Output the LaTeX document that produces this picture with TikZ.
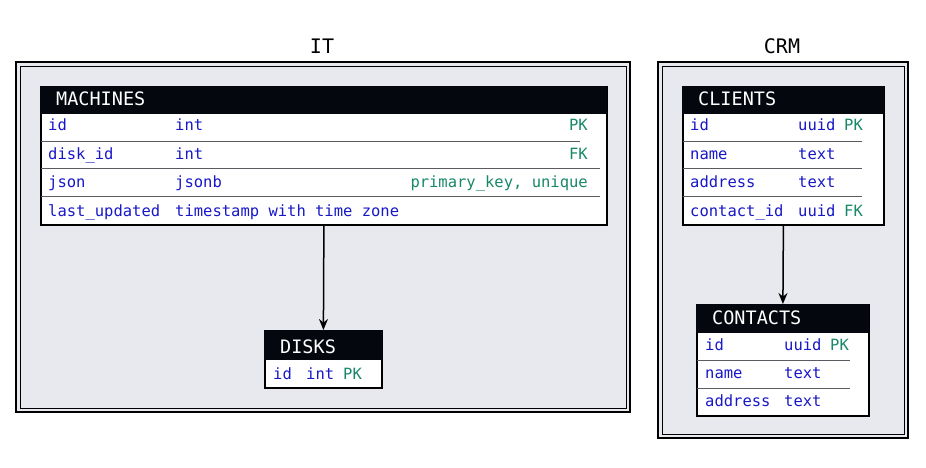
\documentclass[tikz,border=0pt]{standalone}
\usepackage{fontspec}
\setmonofont{DejaVu Sans Mono}
\usetikzlibrary{arrows.meta}
\definecolor{bgray}{HTML}{E8E9EE}
\definecolor{hblack}{HTML}{05070F}
\definecolor{fblue}{HTML}{1818C8}
\definecolor{fgreen}{HTML}{188868}
\definecolor{sepgray}{HTML}{5A5A60}
\tikzset{
  container/.style={draw=black, line width=1.6pt, fill=bgray},
  innerline/.style={draw=black, line width=0.9pt},
  tblbox/.style={draw=black, line width=1.8pt, fill=white, anchor=north west, inner sep=0pt},
  hdrbox/.style={fill=hblack, draw=hblack, line width=1pt, anchor=north west, inner sep=0pt},
  hdr/.style={text=white, font=\ttfamily\fontsize{18.5}{20}\selectfont, anchor=base west, inner sep=0pt},
  ttl/.style={text=black, font=\ttfamily\fontsize{20}{22}\selectfont, anchor=base, inner sep=0pt},
  fname/.style={text=fblue, font=\ttfamily\fontsize{15.5}{17}\selectfont, anchor=base west, inner sep=0pt},
  fcons/.style={text=fgreen, font=\ttfamily\fontsize{15.5}{17}\selectfont, anchor=base east, inner sep=0pt},
  fconsw/.style={text=fgreen, font=\ttfamily\fontsize{15.5}{17}\selectfont, anchor=base west, inner sep=0pt},
  sep/.style={draw=sepgray, line width=0.8pt},
  arr/.style={draw=black, line width=1.5pt, -{Stealth[length=11pt,width=9pt]}},
}
\begin{document}
\begin{tikzpicture}[x=1pt,y=-1pt]
\useasboundingbox (0,0) rectangle (926,468);
% ---------- IT container
\node[ttl] (ittitle) at (322,54) {IT};
\draw[container] (16,62) rectangle (630,412);
\draw[innerline] (20,66) rectangle (626,408);
% MACHINES
\node[tblbox, minimum width=566pt, minimum height=138pt] (machines) at (40,86) {};
\node[hdrbox, minimum width=566pt, minimum height=27pt] (machinesh) at (40,86) {};
\node[hdr] (machinest) at (56,105.5) {MACHINES};
\node[fname] (m1n) at (48,131) {id};
\node[fname] (m1t) at (175,131) {int};
\node[fcons] (m1c) at (588,131) {PK};
\node[fname] (m2n) at (48,159) {disk\_id};
\node[fname] (m2t) at (175,159) {int};
\node[fcons] (m2c) at (588,159) {FK};
\node[fname] (m3n) at (48,187) {json};
\node[fname] (m3t) at (175,187) {jsonb};
\node[fcons] (m3c) at (588,187) {primary\_key, unique};
\node[fname] (m4n) at (48,216) {last\_updated};
\node[fname] (m4t) at (175,216) {timestamp with time zone};
\draw[sep] (41,141) -- (580,141);
\draw[sep] (41,168) -- (600,168);
\draw[sep] (41,196) -- (600,196);
% DISKS
\node[tblbox, minimum width=117pt, minimum height=57pt] (disks) at (264,330) {};
\node[hdrbox, minimum width=117pt, minimum height=29pt] (disksh) at (264,330) {};
\node[hdr] (diskst) at (280,353.5) {DISKS};
\node[fname] (d1n) at (273,379) {id};
\node[fname] (d1t) at (306,379) {int};
\node[fconsw] (d1c) at (343,379) {PK};
\draw[arr] (machines.south) -- (disks.north);
% ---------- CRM container
\node[ttl] (crmtitle) at (782,54) {CRM};
\draw[container] (658,62) rectangle (908,438);
\draw[innerline] (662,66) rectangle (904,434);
% CLIENTS
\node[tblbox, minimum width=201pt, minimum height=138pt] (clients) at (682,86) {};
\node[hdrbox, minimum width=201pt, minimum height=27pt] (clientsh) at (682,86) {};
\node[hdr] (clientst) at (698,105.5) {CLIENTS};
\node[fname] (c1n) at (690,131) {id};
\node[fname] (c1t) at (798,131) {uuid};
\node[fconsw] (c1c) at (844,131) {PK};
\node[fname] (c2n) at (690,159) {name};
\node[fname] (c2t) at (798,159) {text};
\node[fname] (c3n) at (690,187) {address};
\node[fname] (c3t) at (798,187) {text};
\node[fname] (c4n) at (690,216) {contact\_id};
\node[fname] (c4t) at (798,216) {uuid};
\node[fconsw] (c4c) at (844,216) {FK};
\draw[sep] (683,141) -- (862,141);
\draw[sep] (683,168) -- (862,168);
\draw[sep] (683,196) -- (862,196);
% CONTACTS
\node[tblbox, minimum width=172pt, minimum height=111pt] (contacts) at (696,304) {};
\node[hdrbox, minimum width=172pt, minimum height=28pt] (contactsh) at (696,304) {};
\node[hdr] (contactst) at (712,324.5) {CONTACTS};
\node[fname] (k1n) at (705,350) {id};
\node[fname] (k1t) at (784,350) {uuid};
\node[fconsw] (k1c) at (830,350) {PK};
\node[fname] (k2n) at (705,378) {name};
\node[fname] (k2t) at (784,378) {text};
\node[fname] (k3n) at (705,406) {address};
\node[fname] (k3t) at (784,406) {text};
\draw[sep] (697,360) -- (850,360);
\draw[sep] (697,388) -- (850,388);
\draw[arr] (clients.south) -- (contacts.north);
\end{tikzpicture}
\end{document}
